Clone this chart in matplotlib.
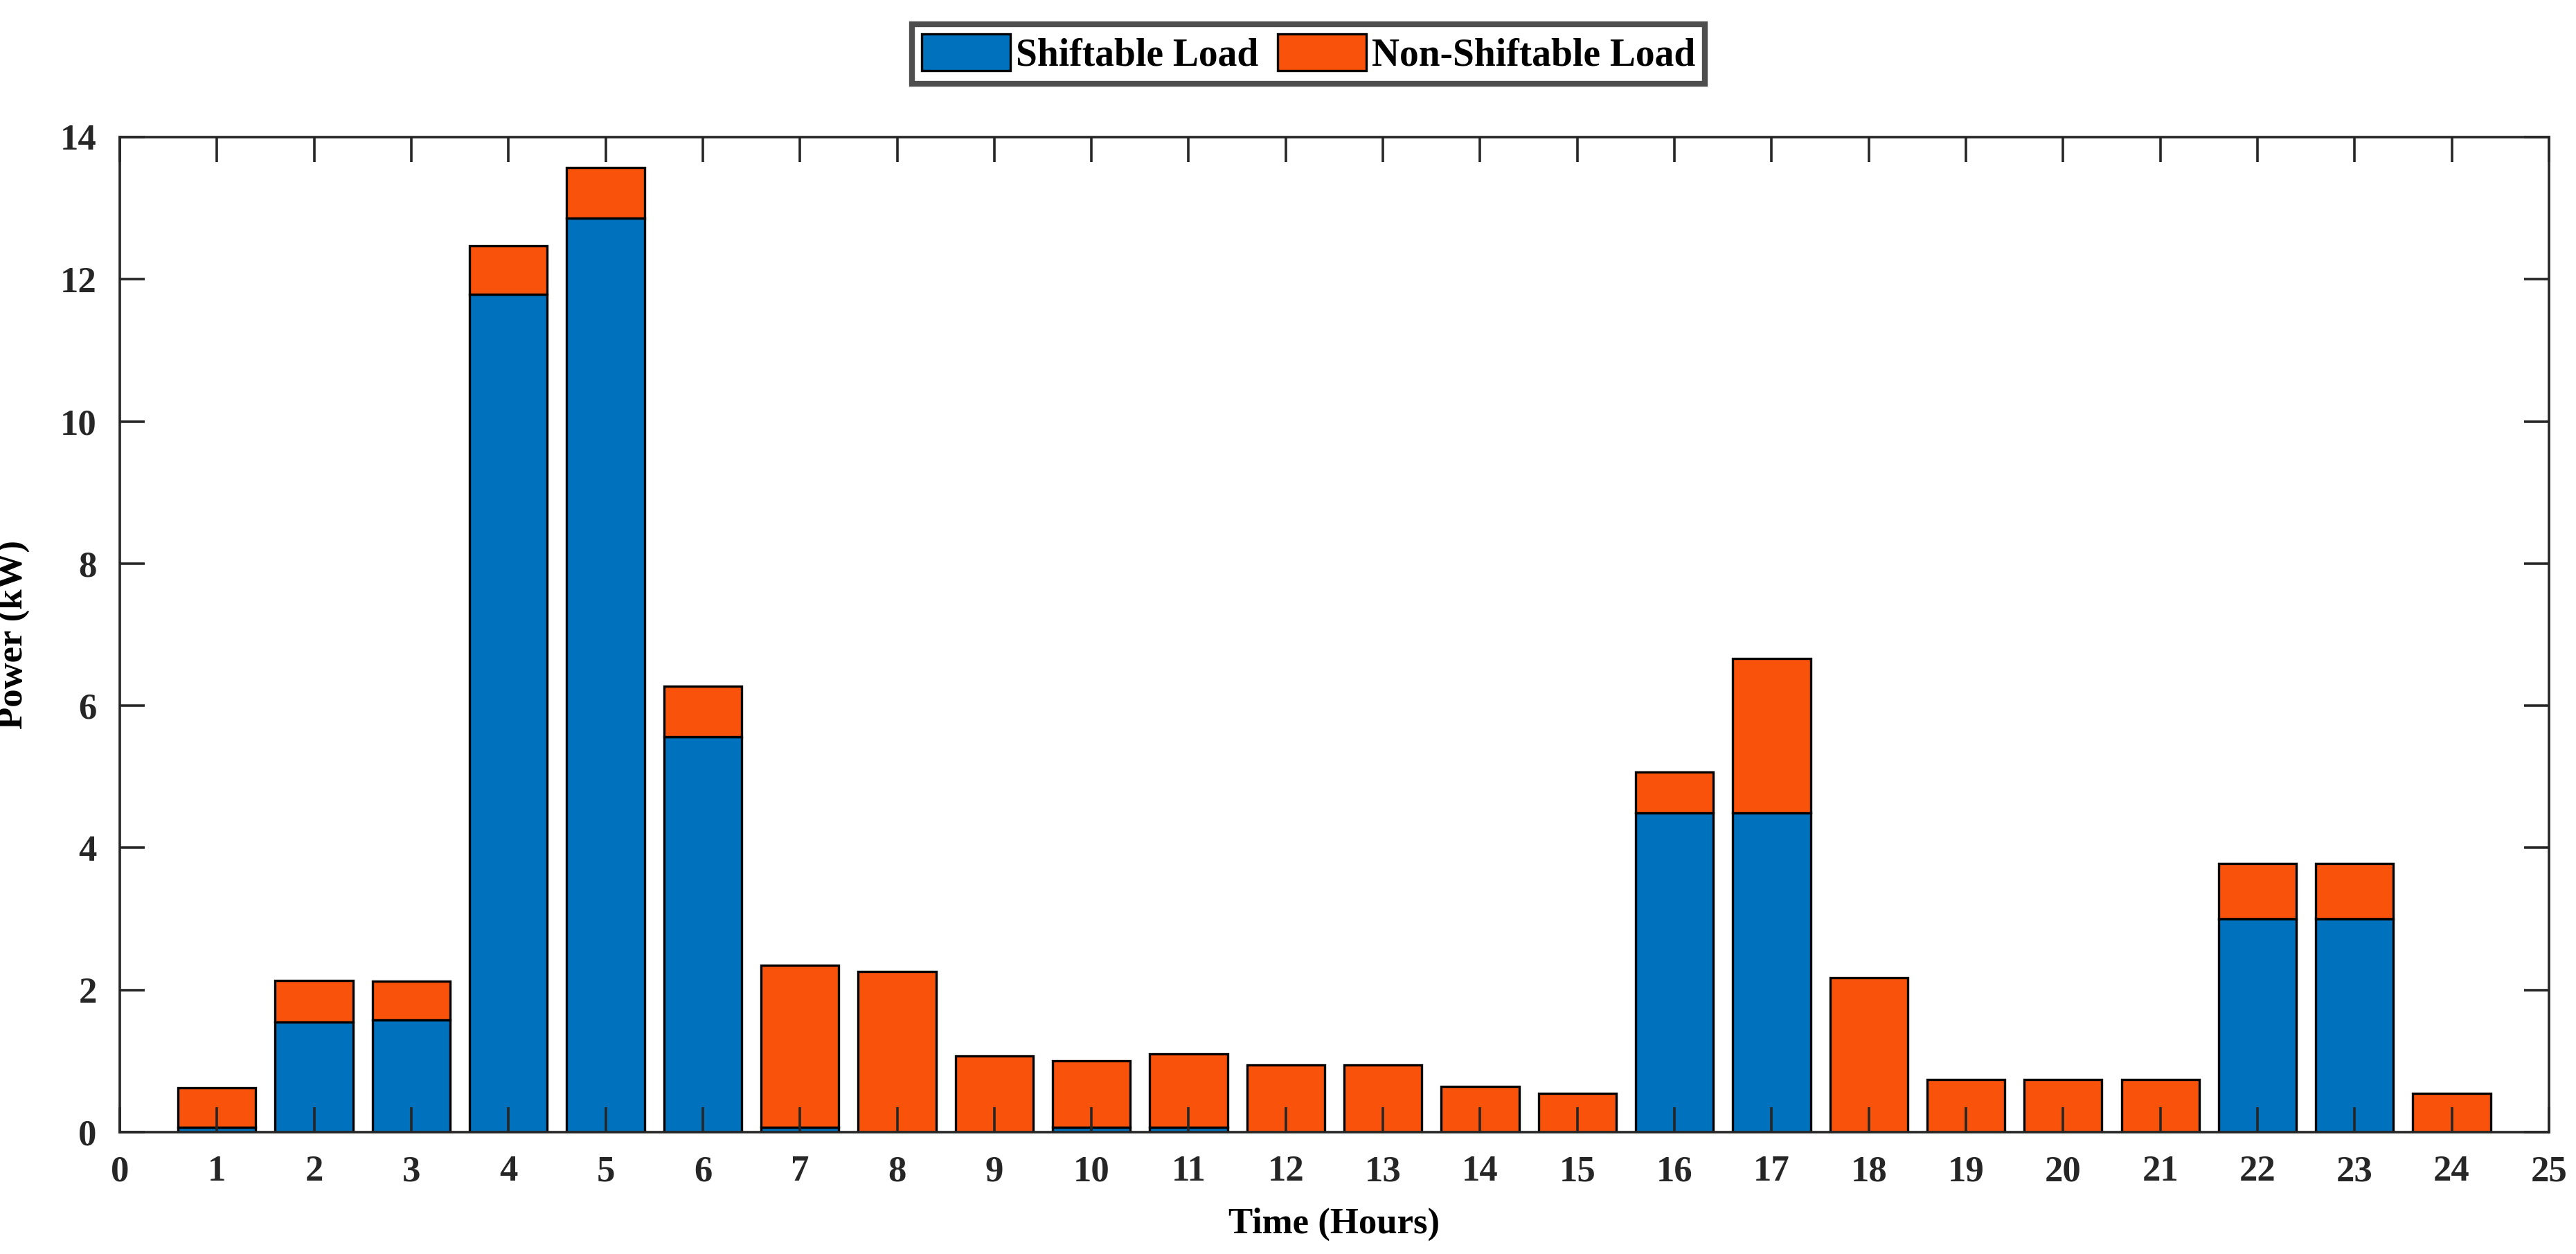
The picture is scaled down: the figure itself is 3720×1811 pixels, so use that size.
import numpy as np
import matplotlib
matplotlib.use("Agg")
import matplotlib.pyplot as plt

hours = list(range(1, 25))
shiftable = [0.07, 1.55, 1.58, 11.79, 12.86, 5.56, 0.07, 0.0, 0.0, 0.07, 0.07, 0.0,
             0.0, 0.0, 0.0, 4.49, 4.49, 0.0, 0.0, 0.0, 0.0, 3.00, 3.00, 0.0]
non_shiftable = [0.55, 0.58, 0.54, 0.68, 0.71, 0.71, 2.28, 2.26, 1.07, 0.93, 1.03, 0.94,
                 0.94, 0.64, 0.55, 0.58, 2.17, 2.17, 0.74, 0.74, 0.74, 0.78, 0.78, 0.55]
series_names = ["Shiftable Load", "Non-Shiftable Load"]
x_ticks = list(range(0, 26))
y_ticks = list(range(0, 15, 2))

blue = "#0072BD"
orange = "#F9530B"

plt.rcParams['font.family'] = ['Liberation Serif', 'DejaVu Serif']
plt.rcParams['font.weight'] = 'bold'

fig = plt.figure(figsize=(18.6, 9.055), dpi=200)
ax = fig.add_axes([0.0465, 0.0972, 0.943, 0.7935])

b1 = ax.bar(hours, shiftable, width=0.8, color=blue, edgecolor='black', linewidth=1.2,
            label=series_names[0])
b2 = ax.bar(hours, non_shiftable, width=0.8, bottom=shiftable, color=orange,
            edgecolor='black', linewidth=1.2, label=series_names[1])

ax.set_xlim(0, 25)
ax.set_ylim(0, 14)
ax.set_xticks(x_ticks)
ax.set_yticks(y_ticks)
ax.tick_params(direction='in', length=13, width=1.3, top=True, right=True,
               labelsize=19, pad=12, colors='#262626')
for lab in ax.get_xticklabels() + ax.get_yticklabels():
    lab.set_fontweight('bold')
    lab.set_color('#262626')
for s in ax.spines.values():
    s.set_linewidth(1.3)
    s.set_color('#262626')

ax.set_xlabel("Time (Hours)", fontsize=19, fontweight='bold', labelpad=10)
ax.set_ylabel("Power (kW)", fontsize=19, fontweight='bold')
ax.yaxis.set_label_coords(-0.037, 0.5)

leg = fig.legend(handles=[b1, b2], labels=series_names, loc='center',
                 bbox_to_anchor=(0.508, 0.957), ncol=2, fontsize=20,
                 frameon=True, fancybox=False, edgecolor='#222222',
                 handlelength=2.3, handleheight=1.1, handletextpad=0.15,
                 columnspacing=0.5, borderpad=0.25, borderaxespad=0)
leg.get_frame().set_linewidth(3)
for t in leg.get_texts():
    t.set_fontweight('bold')

fig.savefig("out.png", dpi=200)
